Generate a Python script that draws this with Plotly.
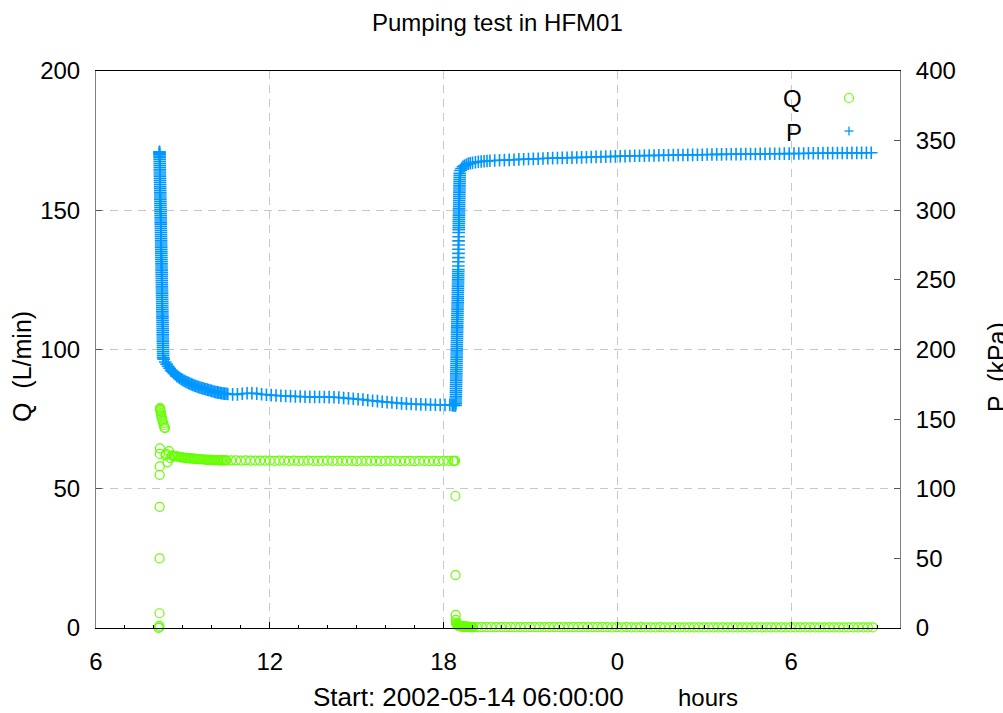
import numpy as np
import plotly.graph_objects as go

# ---------------- data (hours since 00:00 on 2002-05-14) ----------------
# Q (L/min) : start-up of pumping
q_start_t = [8.16, 8.18, 8.19, 8.193, 8.195, 8.197, 8.199, 8.201, 8.203, 8.205,
             8.21, 8.215, 8.22, 8.23, 8.24, 8.25, 8.26, 8.28, 8.30, 8.32, 8.34,
             8.36, 8.38, 8.40]
q_start = [0.0, 0.2, 0.8, 5.3, 25.0, 43.5, 55.0, 58.0, 62.5, 64.5,
           79.0, 78.8, 78.3, 77.8, 77.2, 76.6, 76.0, 75.2, 74.4, 73.6, 72.8,
           72.0, 71.8, 62.0]
# Q early pumping, logged every 0.05 h from 8.42 h
q_early_t0, q_early_dt = 8.42, 0.05
q_early = [62.5, 59.5, 63.5, 61.0, 62.0, 61.8, 61.7, 61.6, 61.5, 61.4, 61.3, 61.3,
           61.2, 61.1, 61.0, 61.0, 60.9, 60.9, 60.8, 60.8, 60.7, 60.7, 60.6, 60.6,
           60.6, 60.5, 60.5, 60.5, 60.4, 60.4, 60.4, 60.4, 60.3, 60.3, 60.3, 60.3,
           60.3, 60.2, 60.2, 60.2, 60.2, 60.2]
# Q steady pumping, logged every 10 min from 10.5 h
q_steady_t0, q_steady_dt = 10.5, 1 / 6
q_steady = [60.2, 60.2, 60.2, 60.1, 60.2, 60.1, 60.1, 60.1, 60.1, 60.1, 60.0, 60.1,
            60.1, 60.0, 60.1, 60.0, 60.0, 60.1, 60.0, 60.0, 60.0, 60.1, 60.0, 60.0,
            60.0, 60.0, 60.0, 59.9, 60.0, 60.0, 60.0, 60.0, 59.9, 60.0, 60.0, 60.0,
            59.9, 60.0, 60.0, 59.9, 60.0, 60.0, 59.9, 60.0, 59.9, 60.0, 60.0, 60.0]
# Q stop of pumping
q_stop_t = [18.37, 18.40, 18.41, 18.415, 18.42, 18.425, 18.43]
q_stop = [60.0, 60.0, 47.4, 19.0, 4.7, 2.9, 2.0]
q_rec_t0, q_rec_dt = 18.44, 0.02
q_rec = [1.5, 1.2, 1.0, 0.9, 0.8, 0.8, 0.7, 0.7, 0.6, 0.6, 0.6, 0.5, 0.5, 0.5, 0.5,
         0.5, 0.4, 0.4, 0.4, 0.4, 0.4, 0.4, 0.4, 0.4, 0.3, 0.3, 0.3, 0.3, 0.3, 0.3]
q_late_t0, q_late_dt = 19.15, 1 / 6
q_late = [0.3, 0.3, 0.3, 0.3, 0.3, 0.3, 0.3, 0.3, 0.3, 0.3, 0.3, 0.3, 0.3, 0.3,
          0.3, 0.3, 0.3, 0.3, 0.3, 0.3, 0.3, 0.3, 0.3, 0.3, 0.3, 0.3, 0.3, 0.3,
          0.2, 0.3, 0.2, 0.3, 0.2, 0.2, 0.3, 0.2, 0.2, 0.2, 0.3, 0.2, 0.2, 0.2,
          0.2, 0.2, 0.2, 0.2, 0.2, 0.2, 0.2, 0.2, 0.2, 0.2, 0.2, 0.2, 0.2, 0.2,
          0.2, 0.2, 0.2, 0.2, 0.2, 0.2, 0.2, 0.2, 0.2, 0.2, 0.2, 0.2, 0.2, 0.2,
          0.2, 0.2, 0.2, 0.2, 0.2, 0.2, 0.2, 0.2, 0.2, 0.2, 0.2, 0.2, 0.2]

# P (kPa) : drawdown at start, densely logged from 8.19 h to 8.32 h
p_drop_t0, p_drop_t1 = 8.19, 8.32
p_drop = [342, 341.5, 341, 340, 339, 338, 336.5, 335, 333.5, 332, 330.5, 329,
          327.5, 326, 324.5, 323, 321.5, 320, 318.5, 317, 315.5, 314, 312.5, 311,
          309.5, 308, 306.5, 305, 303.5, 302, 300.5, 299, 297.5, 296, 294.5, 293,
          291.5, 290, 288.5, 287, 285.5, 284, 282.5, 281, 279.5, 278, 276.5, 275,
          273.5, 272, 270.5, 269, 267.5, 266, 264.5, 263, 261.5, 260, 258.5, 257,
          255.5, 254, 252.5, 251, 249.5, 248, 246.5, 245, 243.5, 242, 240.5, 239,
          237.5, 236, 234.5, 233, 231.5, 230, 228.5, 227, 225.5, 224, 222.5, 221,
          219.5, 218, 216.5, 215, 213.5, 212, 210.5, 209, 207.5, 206, 204.5, 203,
          201.5, 200, 198.5, 197, 195.5, 194]
p_early_t0, p_early_dt = 8.34, 0.05
p_early = [193.0, 191.0, 189.5, 188.0, 186.5, 185.0, 184.0, 183.0, 182.0, 181.0,
           180.2, 179.5, 178.8, 178.2, 177.6, 177.0, 176.5, 176.0, 175.5, 175.0,
           174.6, 174.2, 173.8, 173.4, 173.0, 172.7, 172.4, 172.1, 171.8, 171.5,
           171.2, 170.9, 170.6, 170.3, 170.0, 169.7, 169.4, 169.2, 169.0, 168.8,
           168.6, 168.4, 168.3, 168.2]
p_steady_t0, p_steady_dt = 10.55, 1 / 6
p_steady = [168.0, 167.8, 167.8, 168.2, 168.6, 168.6,
            168.3, 167.9, 167.5, 167.2, 167.0, 166.8,
            166.6, 166.5, 166.3, 166.2, 166.1, 166.0,
            166.0, 165.9, 165.9, 165.8, 165.7, 165.5,
            165.2, 164.9, 164.6, 164.3, 164.0, 163.6,
            163.2, 162.9, 162.5, 162.2, 161.9, 161.6,
            161.3, 161.1, 160.9, 160.7, 160.6, 160.5,
            160.4, 160.3, 160.2, 160.2, 160.1]
p_stop_t = [18.30, 18.35, 18.40]
p_stop = [160.0, 159.9, 159.8]
# P recovery, densely logged from 18.42 h to 18.56 h
p_rise_t0, p_rise_t1 = 18.42, 18.56
p_rise = [160, 161.5, 163, 164.5, 166, 167.5, 169, 170.5, 172, 173.5, 175, 176.5,
          178, 179.5, 181, 182.5, 184, 185.5, 187, 188.5, 190, 191.5, 193, 194.5,
          196, 197.5, 199, 200.5, 202, 203.5, 205, 206.5, 208, 209.5, 211, 212.5,
          214, 215.5, 217, 218.5, 220, 221.5, 223, 224.5, 226, 227.5, 229, 230.5,
          232, 233.5, 235, 236.5, 238, 239.5, 241, 242.5, 244, 245.5, 247, 248.5,
          250, 251.5, 253, 254.5, 256, 257.5,
          260, 263, 266, 269, 272, 275, 278, 281, 284,
          286, 287.5, 289, 290.5, 292, 293.5, 295, 296.5, 298, 299.5, 301, 302.5,
          304, 305.5, 307, 308.5, 310, 311.5, 313, 314.5, 316, 317.5, 319, 320.5,
          322, 323.5, 325, 326.5]
p_bend_t = [18.58, 18.62, 18.67, 18.72, 18.78, 18.85, 18.92, 19.0, 19.1, 19.2,
            19.3, 19.4, 19.5]
p_bend = [328.5, 330.0, 331.2, 332.0, 332.7, 333.3, 333.8, 334.1, 334.5, 334.8,
          335.0, 335.2, 335.4]
p_late_t0, p_late_dt = 19.6, 1 / 6
p_late = [335.5, 335.7, 335.9, 336.0, 336.2, 336.3,
          336.5, 336.6, 336.8, 336.9, 337.0, 337.2,
          337.3, 337.4, 337.5, 337.6, 337.7, 337.8,
          337.9, 338.0, 338.1, 338.2, 338.3, 338.4,
          338.5, 338.6, 338.7, 338.8, 338.9, 339.0,
          339.1, 339.1, 339.2, 339.3, 339.3, 339.4,
          339.5, 339.5, 339.6, 339.7, 339.7, 339.8,
          339.8, 339.9, 339.9, 340.0, 340.0, 340.1,
          340.1, 340.2, 340.2, 340.3, 340.3, 340.4,
          340.4, 340.4, 340.5, 340.5, 340.6, 340.6,
          340.6, 340.7, 340.7, 340.8, 340.8, 340.8,
          340.9, 340.9, 340.9, 341.0, 341.0, 341.0,
          341.1, 341.1, 341.1, 341.2, 341.2, 341.2,
          341.3, 341.3]

x_tick_vals = [6, 12, 18, 24, 30]
x_tick_text = ["6", "12", "18", "0", "6"]


def logged(t0, dt, vals):
    return [t0 + dt * i for i in range(len(vals))]


def logged_span(t0, t1, vals):
    return list(np.linspace(t0, t1, len(vals)))


q_t = (q_start_t + logged(q_early_t0, q_early_dt, q_early)
       + logged(q_steady_t0, q_steady_dt, q_steady) + q_stop_t
       + logged(q_rec_t0, q_rec_dt, q_rec) + logged(q_late_t0, q_late_dt, q_late))
q_v = q_start + q_early + q_steady + q_stop + q_rec + q_late

p_t = (logged_span(p_drop_t0, p_drop_t1, p_drop) + logged(p_early_t0, p_early_dt, p_early)
       + logged(p_steady_t0, p_steady_dt, p_steady) + p_stop_t
       + logged_span(p_rise_t0, p_rise_t1, p_rise) + p_bend_t
       + logged(p_late_t0, p_late_dt, p_late))
p_v = p_drop + p_early + p_steady + p_stop + p_rise + p_bend + p_late

GREEN = "#66ff00"
BLUE = "#0096ff"
FONT = "Liberation Sans, Arial, sans-serif"

fig = go.Figure()
fig.add_trace(go.Scatter(
    x=q_t, y=q_v, name="Q", mode="markers", yaxis="y", cliponaxis=False,
    marker=dict(symbol="circle-open", size=9, color=GREEN, line=dict(width=1.2, color=GREEN)),
))
fig.add_trace(go.Scatter(
    x=p_t, y=p_v, name="P", mode="markers", yaxis="y2", cliponaxis=False,
    marker=dict(symbol="cross-thin-open", size=9, color=BLUE, line=dict(width=1.6, color=BLUE)),
))

L, R, T, B = 96, 103, 71, 85
W, H = 1003, 713
PW, PH = W - L - R, H - T - B


def px(x):
    return (x - L) / PW


def py(y):
    return (H - B - y) / PH


grid = dict(showgrid=True, gridcolor="#c8c8c8", gridwidth=1, griddash="8px,6px")

fig.update_layout(
    width=W, height=H,
    margin=dict(l=L, r=R, t=T, b=B),
    plot_bgcolor="white", paper_bgcolor="white",
    showlegend=False,
    font=dict(family=FONT, size=24, color="black"),
    xaxis=dict(
        range=[6, 33.76], tickvals=x_tick_vals, ticktext=x_tick_text,
        ticks="inside", ticklen=6, tickcolor="black", tickwidth=1,
        showline=True, linecolor="black", linewidth=1, mirror=True,
        zeroline=False, tickfont=dict(size=24), ticklabelstandoff=12,
        minor=dict(dtick=1, ticks="inside", ticklen=3, tickcolor="black", showgrid=False),
        **grid,
    ),
    yaxis=dict(
        range=[0, 200], dtick=50, ticks="inside", ticklen=6, tickcolor="#555555",
        showline=True, linecolor="#808080", linewidth=1, zeroline=False,
        tickfont=dict(size=24), ticklabelstandoff=10,
        **grid,
    ),
    yaxis2=dict(
        range=[0, 400], dtick=50, overlaying="y", side="right",
        ticks="inside", ticklen=6, tickcolor="#555555",
        showline=True, linecolor="#808080", linewidth=1, zeroline=False,
        showgrid=False, tickfont=dict(size=24), ticklabelstandoff=10,
    ),
)

ann = [
    dict(text="Pumping test in HFM01", x=px(497), y=py(22), font=dict(size=24)),
    dict(text="Start: 2002-05-14 06:00:00", x=px(468), y=py(697), font=dict(size=26)),
    dict(text="hours", x=px(708), y=py(697), font=dict(size=24)),
    dict(text="Q  (L/min)", x=px(22), y=py(367), textangle=-90, font=dict(size=25)),
    dict(text="P  (kPa)", x=px(997), y=py(367), textangle=-90, font=dict(size=25)),
]
for a in ann:
    fig.add_annotation(xref="paper", yref="paper", showarrow=False,
                       xanchor="center", yanchor="middle", **a)
# legend (text left of symbol, as in the original)
fig.add_annotation(xref="paper", yref="paper", showarrow=False, text="Q",
                   x=px(804), y=py(98), xanchor="right", yanchor="middle", font=dict(size=24))
fig.add_annotation(xref="paper", yref="paper", showarrow=False, text="P",
                   x=px(804), y=py(132), xanchor="right", yanchor="middle", font=dict(size=24))
fig.add_shape(type="circle", xref="paper", yref="paper", xsizemode="pixel", ysizemode="pixel",
              xanchor=px(849), yanchor=py(98), x0=-4.5, x1=4.5, y0=-4.5, y1=4.5,
              line=dict(color=GREEN, width=1.2))
fig.add_shape(type="line", xref="paper", yref="paper", xsizemode="pixel", ysizemode="pixel",
              xanchor=px(849), yanchor=py(131), x0=-4.5, x1=4.5, y0=0, y1=0,
              line=dict(color=BLUE, width=1.3))
fig.add_shape(type="line", xref="paper", yref="paper", xsizemode="pixel", ysizemode="pixel",
              xanchor=px(849), yanchor=py(131), x0=0, x1=0, y0=-4.5, y1=4.5,
              line=dict(color=BLUE, width=1.3))

fig.write_html("out.html", config={"displayModeBar": False},
               post_script="document.body.style.margin='0px';")
